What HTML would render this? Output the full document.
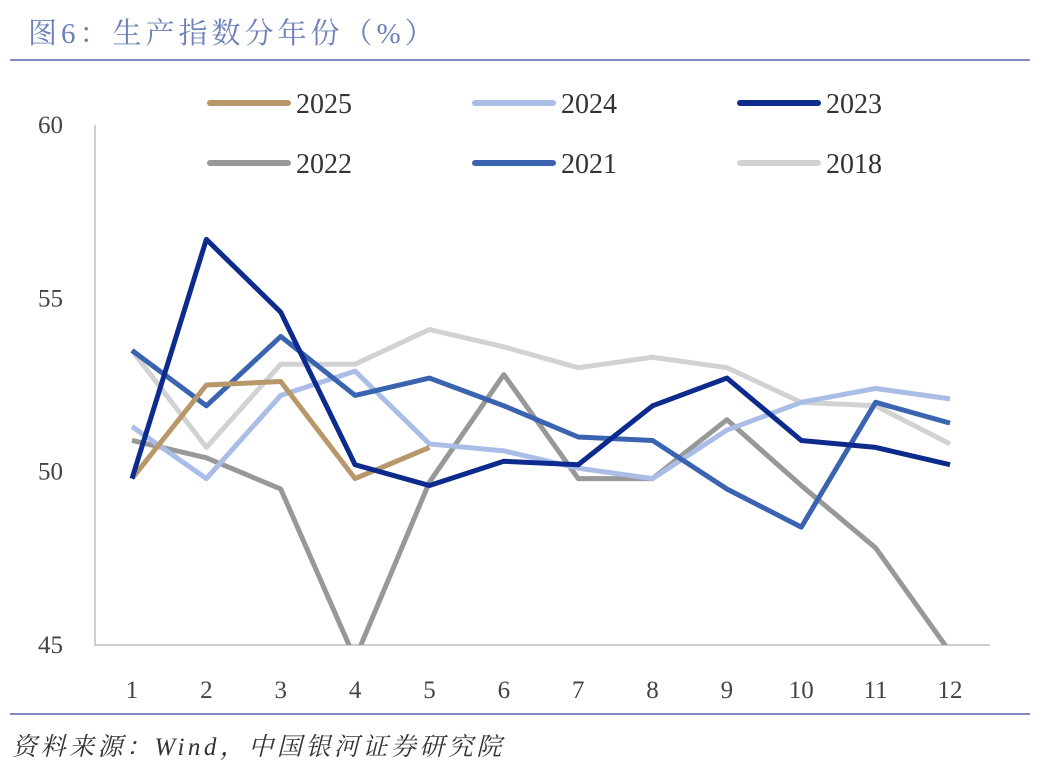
<!DOCTYPE html>
<html><head><meta charset="utf-8"><style>
body{margin:0;background:#fff;width:1044px;height:777px;overflow:hidden;font-family:"Liberation Serif","Noto Serif CJK SC",serif;}
</style></head><body>
<svg width="1044" height="777" id="chart">
<text x="28" y="43" font-size="29" letter-spacing="4" fill="#6b80b8" font-family="'Liberation Serif','Noto Serif CJK SC',serif">图6：生产指数分年份（%）</text>
<line x1="10" y1="60" x2="1030" y2="60" stroke="#7d8dbf" stroke-width="2"/>
<line x1="10" y1="714" x2="1030" y2="714" stroke="#7d8dbf" stroke-width="2"/>
<text x="12" y="755" font-size="25" letter-spacing="3.5" font-style="italic" fill="#333" font-family="'Liberation Serif','Noto Serif CJK SC',serif">资料来源：Wind，中国银河证券研究院</text>
<line x1="95" y1="125" x2="95" y2="646" stroke="#bfbfbf" stroke-width="1.5"/>
<line x1="95" y1="645" x2="990" y2="645" stroke="#bfbfbf" stroke-width="1.5"/>
<defs><clipPath id="plot"><rect x="95" y="100" width="900" height="545"/></clipPath></defs>
<g id="series" clip-path="url(#plot)"></g>
<g id="ticks"></g>
<g id="legend"></g>
</svg>
<script>
const months=[1,2,3,4,5,6,7,8,9,10,11,12];
const yTicks=[45,50,55,60];
const seriesNames=["2018","2022","2024","2021","2025","2023"];
const s2018=[53.5,50.7,53.1,53.1,54.1,53.6,53.0,53.3,53.0,52.0,51.9,50.8];
const s2022=[50.9,50.4,49.5,44.6,49.7,52.8,49.8,49.8,51.5,49.6,47.8,44.8];
const s2024=[51.3,49.8,52.2,52.9,50.8,50.6,50.1,49.8,51.2,52.0,52.4,52.1];
const s2021=[53.5,51.9,53.9,52.2,52.7,51.9,51.0,50.9,49.5,48.4,52.0,51.4];
const s2025=[49.8,52.5,52.6,49.8,50.7];
const s2023=[49.8,56.7,54.6,50.2,49.6,50.3,50.2,51.9,52.7,50.9,50.7,50.2];
const colors={"2025":"#b8976a","2024":"#a9bde6","2023":"#0c2b8c","2022":"#989898","2021":"#3a63b0","2018":"#d2d2d2"};
const data={"2018":s2018,"2022":s2022,"2024":s2024,"2021":s2021,"2025":s2025,"2023":s2023};
const legendOrder=["2025","2024","2023","2022","2021","2018"];
const NS="http://www.w3.org/2000/svg";
const x=m=>132+(m-1)*(950-132)/11;
const y=v=>645-(v-45)*(645-125)/15;
const sg=document.getElementById('series');
seriesNames.forEach(n=>{
  const p=document.createElementNS(NS,'polyline');
  
  
  p.setAttribute('points',data[n].map((v,i)=>x(months[i])+','+y(v)).join(' '));
  p.setAttribute('fill','none');p.setAttribute('stroke',colors[n]);
  p.setAttribute('stroke-width','5');p.setAttribute('stroke-linejoin','round');
  sg.appendChild(p);
});
const tg=document.getElementById('ticks');
yTicks.forEach(t=>{
  const e=document.createElementNS(NS,'text');
  
  
  e.setAttribute('x',63);e.setAttribute('y',y(t)+8);e.setAttribute('text-anchor','end');
  e.setAttribute('font-size','25');e.setAttribute('fill','#444');e.textContent=t;tg.appendChild(e);
});
months.forEach(m=>{
  const e=document.createElementNS(NS,'text');
  
  
  e.setAttribute('x',x(m));e.setAttribute('y',698);e.setAttribute('text-anchor','middle');
  e.setAttribute('font-size','25');e.setAttribute('fill','#444');e.textContent=m;tg.appendChild(e);
});
const lg=document.getElementById('legend');
legendOrder.forEach((n,i)=>{
  const cx=210+(i%3)*265, cy=i<3?103:163;
  const g=document.createElementNS(NS,'g');
  
  
  const l=document.createElementNS(NS,'line');
  l.setAttribute('x1',cx);l.setAttribute('x2',cx+78);l.setAttribute('y1',cy);l.setAttribute('y2',cy);
  l.setAttribute('stroke',colors[n]);l.setAttribute('stroke-width','6');l.setAttribute('stroke-linecap','round');
  const t=document.createElementNS(NS,'text');
  t.setAttribute('x',cx+86);t.setAttribute('y',cy+10);t.setAttribute('font-size','28');t.setAttribute('fill','#333');
  t.textContent=n;
  g.appendChild(l);g.appendChild(t);lg.appendChild(g);
});
</script>
</body></html>
